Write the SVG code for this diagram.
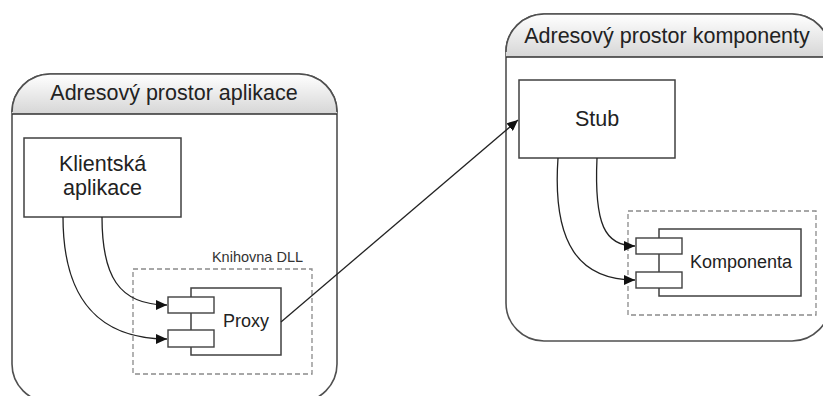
<svg xmlns="http://www.w3.org/2000/svg" width="823" height="396" viewBox="0 0 823 396">
  <defs>
    <linearGradient id="hdr" x1="0" y1="0" x2="0" y2="1">
      <stop offset="0" stop-color="#ffffff"/>
      <stop offset="1" stop-color="#d6d6d6"/>
    </linearGradient>
    <marker id="arr" markerUnits="userSpaceOnUse" markerWidth="12" markerHeight="10" refX="11" refY="5" orient="auto">
      <path d="M0,0 L11,5 L0,10 Z" fill="#111"/>
    </marker>
    <clipPath id="clipL"><path d="M12,112 A38,38 0 0 1 50,74 H299 A38,38 0 0 1 337,112 V364 A38,38 0 0 1 299,402 H50 A38,38 0 0 1 12,364 Z"/></clipPath>
    <clipPath id="clipR"><path d="M506,52 A38,38 0 0 1 544,14 H792 A38,38 0 0 1 830,52 V303 A38,38 0 0 1 792,341 H544 A38,38 0 0 1 506,303 Z"/></clipPath>
  </defs>
  <style>
    .space { fill: #ffffff; stroke: #505050; stroke-width: 1.6; }
    .sep { stroke: #303030; stroke-width: 1.4; }
    .box { fill: #ffffff; stroke: #404040; stroke-width: 1.5; }
    .lib { fill: none; stroke: #8a8a8a; stroke-width: 1.3; stroke-dasharray: 5 3; }
    .port { fill: #ffffff; stroke: #404040; stroke-width: 1.4; }
    .conn { fill: none; stroke: #222; stroke-width: 1.3; }
    text { font-family: "Liberation Sans", Arial, sans-serif; fill: #222; text-anchor: middle; }
    .big { font-size: 21.5px; }
    .mid { font-size: 18px; }
    .small { font-size: 14.5px; fill: #333; }
  </style>

  <!-- application address space -->
  <g id="space-app">
    <path class="space" d="M12,112 A38,38 0 0 1 50,74 H299 A38,38 0 0 1 337,112 V364 A38,38 0 0 1 299,402 H50 A38,38 0 0 1 12,364 Z"/>
    <rect x="0" y="74" width="340" height="40" fill="url(#hdr)" clip-path="url(#clipL)"/>
    <path d="M12,112 A38,38 0 0 1 50,74 H299 A38,38 0 0 1 337,112" fill="none" stroke="#505050" stroke-width="1.6"/>
    <line class="sep" x1="12" y1="114" x2="337" y2="114"/>
    <text class="big" x="174" y="100">Adresový prostor aplikace</text>
  </g>

  <!-- component address space -->
  <g id="space-comp">
    <path class="space" d="M506,52 A38,38 0 0 1 544,14 H792 A38,38 0 0 1 830,52 V303 A38,38 0 0 1 792,341 H544 A38,38 0 0 1 506,303 Z"/>
    <rect x="500" y="14" width="340" height="43" fill="url(#hdr)" clip-path="url(#clipR)"/>
    <path d="M506,52 A38,38 0 0 1 544,14 H792 A38,38 0 0 1 830,52" fill="none" stroke="#505050" stroke-width="1.6"/>
    <line class="sep" x1="506" y1="57" x2="830" y2="57"/>
    <text class="big" x="667" y="43">Adresový prostor komponenty</text>
  </g>

  <!-- client application -->
  <g id="client">
    <rect class="box" x="24" y="138" width="157" height="79"/>
    <text class="big" x="102.5" y="171">Klientská</text>
    <text class="big" x="102.5" y="195">aplikace</text>
  </g>

  <!-- DLL library with proxy -->
  <g id="dll">
    <rect class="lib" x="133" y="269" width="179" height="105"/>
    <text class="small" x="257.5" y="262">Knihovna DLL</text>
  </g>
  <g id="proxy">
    <rect class="box" x="191" y="288" width="90" height="67"/>
    <rect class="port" x="168" y="297" width="46" height="16"/>
    <rect class="port" x="168" y="330" width="46" height="17"/>
    <text class="mid" x="246" y="327">Proxy</text>
  </g>

  <!-- stub -->
  <g id="stub">
    <rect class="box" x="519" y="80" width="156" height="78"/>
    <text class="big" x="597" y="126">Stub</text>
  </g>

  <!-- component -->
  <g id="komponenta-lib">
    <rect class="lib" x="628" y="211" width="188" height="104"/>
  </g>
  <g id="komponenta">
    <rect class="box" x="659" y="229" width="142" height="67"/>
    <rect class="port" x="636" y="238" width="46" height="16"/>
    <rect class="port" x="636" y="272" width="46" height="16"/>
    <text class="mid" x="741" y="268">Komponenta</text>
  </g>

  <!-- connectors -->
  <g id="connectors">
    <path class="conn" marker-end="url(#arr)" d="M102,217 C102,275 118,305 167,305"/>
    <path class="conn" marker-end="url(#arr)" d="M63,217 C63,300 100,339 167,339"/>
    <path class="conn" marker-end="url(#arr)" d="M281,322 L518,120"/>
    <path class="conn" marker-end="url(#arr)" d="M597,158 C594,225 605,246 635,246"/>
    <path class="conn" marker-end="url(#arr)" d="M558,158 C552,245 580,280 635,280"/>
  </g>
</svg>
